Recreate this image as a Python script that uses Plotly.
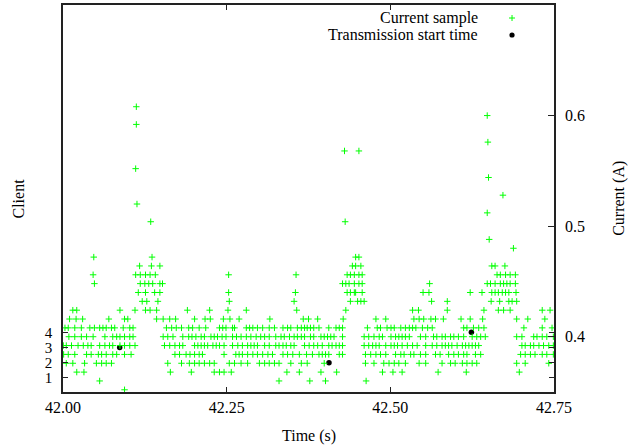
import plotly.graph_objects as go

# ---------------- data ----------------
base_time_s = 42.0

# Current samples, grouped by quantised current level (A); times are ms after 42.000 s
current_levels = [0.352, 0.360, 0.368, 0.376, 0.384, 0.392, 0.400, 0.408, 0.416,
                  0.424, 0.432, 0.440, 0.448, 0.456, 0.464, 0.472, 0.480, 0.488,
                  0.504, 0.512, 0.520, 0.528, 0.544, 0.552, 0.568, 0.576, 0.592,
                  0.600, 0.608]

sample_ms_by_level = [
    [94],
    [56, 330, 377, 401, 463],
    [21, 32, 164, 196, 231, 239, 246, 257, 342, 361, 394, 418, 488, 504, 518, 573, 616, 697],
    [5, 15, 33, 51, 59, 66, 74, 160, 181, 193, 201, 208, 216, 224, 231, 254, 262, 272, 282,
     300, 308, 315, 323, 330, 348, 364, 373, 399, 462, 475, 490, 498, 506, 513, 523, 544,
     554, 579, 592, 599, 610, 617, 625, 632, 693, 706, 742],
    [1, 8, 18, 36, 43, 54, 59, 66, 76, 82, 94, 104, 171, 178, 188, 194, 201, 208, 213, 246,
     264, 269, 274, 282, 290, 297, 305, 313, 320, 336, 343, 351, 361, 372, 381, 391, 396,
     401, 406, 422, 427, 462, 470, 478, 485, 493, 508, 516, 521, 531, 536, 546, 554, 569,
     576, 589, 597, 604, 612, 617, 630, 638, 699, 706, 714, 721, 732, 739, 749],
    [0.5, 5, 13, 23, 31, 38, 43, 56, 64, 71, 76, 87, 94, 102, 110, 155, 163, 171, 178, 183,
     201, 206, 211, 216, 221, 229, 234, 239, 246, 259, 267, 274, 282, 287, 292, 297, 308,
     315, 325, 330, 336, 341, 348, 353, 369, 376, 383, 389, 396, 406, 411, 417, 422, 427,
     460, 467, 473, 478, 483, 493, 501, 506, 511, 518, 526, 534, 541, 554, 564, 571, 579,
     584, 589, 594, 602, 610, 615, 620, 625, 630, 635, 701, 706, 714, 719, 727, 734, 742, 749],
    [9, 18, 28, 36, 46, 64, 76, 82, 87, 94, 102, 107, 153, 160, 168, 183, 192, 197, 203, 211,
     216, 226, 231, 236, 243, 249, 259, 265, 272, 280, 287, 295, 302, 308, 315, 325, 333,
     338, 346, 353, 358, 364, 369, 378, 383, 394, 399, 404, 409, 414, 427, 460, 467, 475,
     483, 488, 501, 508, 513, 518, 523, 529, 546, 554, 566, 571, 579, 584, 592, 597, 604,
     612, 625, 632, 638, 645, 693, 701, 719, 724, 732, 739, 749],
    [3, 8, 18, 28, 41, 48, 56, 61, 66, 74, 79, 92, 102, 107, 158, 166, 173, 181, 192, 198,
     208, 218, 239, 244, 249, 259, 262, 280, 285, 290, 297, 305, 315, 323, 336, 343, 348,
     358, 364, 369, 373, 378, 383, 391, 406, 417, 422, 427, 465, 480, 485, 495, 501, 506,
     516, 523, 529, 534, 539, 549, 557, 564, 612, 617, 627, 635, 643, 704, 732, 747],
    [10, 20, 30, 70, 94, 99, 143, 153, 163, 172, 201, 217, 225, 245, 255, 269, 316, 367, 375,
     389, 428, 478, 493, 536, 544, 551, 562, 569, 581, 608, 622, 641, 693, 710, 736],
    [15, 21, 87, 110, 126, 133, 143, 190, 224, 252, 280, 357, 432, 534, 543, 587, 643, 665,
     673, 683, 732, 744],
    [121, 128, 145, 254, 353, 439, 450, 455, 460, 563, 587, 654, 667, 681, 686, 693],
    [115, 126, 140, 148, 253, 355, 434, 439, 445, 447, 457, 550, 559, 622, 640, 655, 660,
     665, 671, 676, 681, 692],
    [48, 118, 125, 131, 137, 148, 152, 427, 432, 437, 445, 452, 457, 560, 648, 653, 660, 668,
     673, 678, 683, 691],
    [46, 111, 118, 126, 133, 141, 253, 356, 434, 439, 445, 452, 457, 663, 668, 676, 683, 691],
    [117, 135, 148, 442, 447, 455, 655, 660, 675],
    [47, 136, 447, 452],
    [688],
    [651],
    [134, 431],
    [648],
    [113],
    [672],
    [650],
    [111],
    [430, 452],
    [649],
    [112],
    [648],
    [112],
]

# Transmission start times (s) and the client that started
tx_time_s = [42.0866, 42.4063, 42.6238]
tx_client = [3, 2, 4]

x_tick_vals = [42.00, 42.25, 42.50, 42.75]
x_tick_text = ["42.00", "42.25", "42.50", "42.75"]
client_ticks = [1, 2, 3, 4]
current_ticks = [0.4, 0.5, 0.6]

# ---------------- build series ----------------
sample_t, sample_a = [], []
for level, times in zip(current_levels, sample_ms_by_level):
    for ms in times:
        sample_t.append(base_time_s + ms / 1000.0)
        sample_a.append(level)

FONT = "Liberation Serif"
FS = 16
GREEN = "#00ff00"
BLACK = "#000000"
fig = go.Figure()
fig.add_trace(go.Scatter(
    x=sample_t, y=sample_a, mode="markers", name="Current sample", yaxis="y2",
    marker=dict(symbol="cross-thin", size=4.6, color=GREEN,
                line=dict(color=GREEN, width=1.0)),
    showlegend=False))
fig.add_trace(go.Scatter(
    x=tx_time_s, y=tx_client, mode="markers", name="Transmission start time",
    marker=dict(symbol="circle", size=5.5, color=BLACK),
    showlegend=False))

axis_common = dict(showline=True, linecolor="#222222", linewidth=1.6, ticks="inside",
                   ticklen=5, tickcolor="#222222", tickwidth=1.2, showgrid=False,
                   zeroline=False)

fig.update_layout(
    template="none",
    width=629, height=447, autosize=False,
    margin=dict(l=63, r=75, t=5, b=55, pad=0),
    paper_bgcolor="white", plot_bgcolor="white",
    font=dict(family=FONT, size=FS, color=BLACK),
    xaxis=dict(range=[42.0, 42.75], tickvals=x_tick_vals, ticktext=x_tick_text,
               mirror="ticks", tickfont=dict(family=FONT, size=FS, color=BLACK),
               **axis_common),
    yaxis=dict(range=[0.07, 25.55], tickvals=client_ticks, mirror="ticks",
               ticklabelstandoff=6, tickfont=dict(family=FONT, size=15, color=BLACK),
               **axis_common),
    yaxis2=dict(range=[0.35, 0.70], tickvals=current_ticks, overlaying="y", side="right",
                ticks="inside", ticklen=6, tickcolor="#222222", tickwidth=1.2,
                showline=False, showgrid=False, zeroline=False, ticklabelstandoff=10,
                tickfont=dict(family=FONT, size=FS, color=BLACK)),
    showlegend=False,
)

# Axis titles
title_font = dict(family=FONT, size=FS, color=BLACK)
fig.add_annotation(text="Time (s)", xref="paper", yref="paper", x=0.5, y=-0.1137,
                   showarrow=False, xanchor="center", yanchor="middle", font=title_font)
fig.add_annotation(text="Client", xref="paper", yref="paper", x=-0.0916, y=0.5,
                   textangle=-90, showarrow=False, xanchor="center", yanchor="middle",
                   font=title_font)
fig.add_annotation(text="Current (A)", xref="paper", yref="paper", x=1.131, y=0.5,
                   textangle=-90, showarrow=False, xanchor="center", yanchor="middle",
                   font=title_font)

# Key (gnuplot style: text on the left, sample on the right)
fig.add_annotation(text="Current sample", xref="paper", yref="paper", x=0.8483, y=0.9656,
                   showarrow=False, xanchor="right", yanchor="middle", font=title_font)
fig.add_annotation(text="Transmission start time", xref="paper", yref="paper", x=0.8483,
                   y=0.9225, showarrow=False, xanchor="right", yanchor="middle",
                   font=title_font)
kx, ky1, ky2 = 0.9145, 0.9664, 0.9225
dx, dy = 3 / 491, 3 / 387
fig.add_shape(type="line", xref="paper", yref="paper", x0=kx - dx, x1=kx + dx, y0=ky1, y1=ky1,
              line=dict(color=GREEN, width=1.0))
fig.add_shape(type="line", xref="paper", yref="paper", x0=kx, x1=kx, y0=ky1 - dy, y1=ky1 + dy,
              line=dict(color=GREEN, width=1.0))
fig.add_shape(type="circle", xref="paper", yref="paper", x0=kx - 2.6 / 491, x1=kx + 2.6 / 491,
              y0=ky2 - 2.6 / 387, y1=ky2 + 2.6 / 387, fillcolor=BLACK, line=dict(width=0))

fig.write_html("out.html", config={"displayModeBar": False},
               post_script="document.body.style.margin='0';")
